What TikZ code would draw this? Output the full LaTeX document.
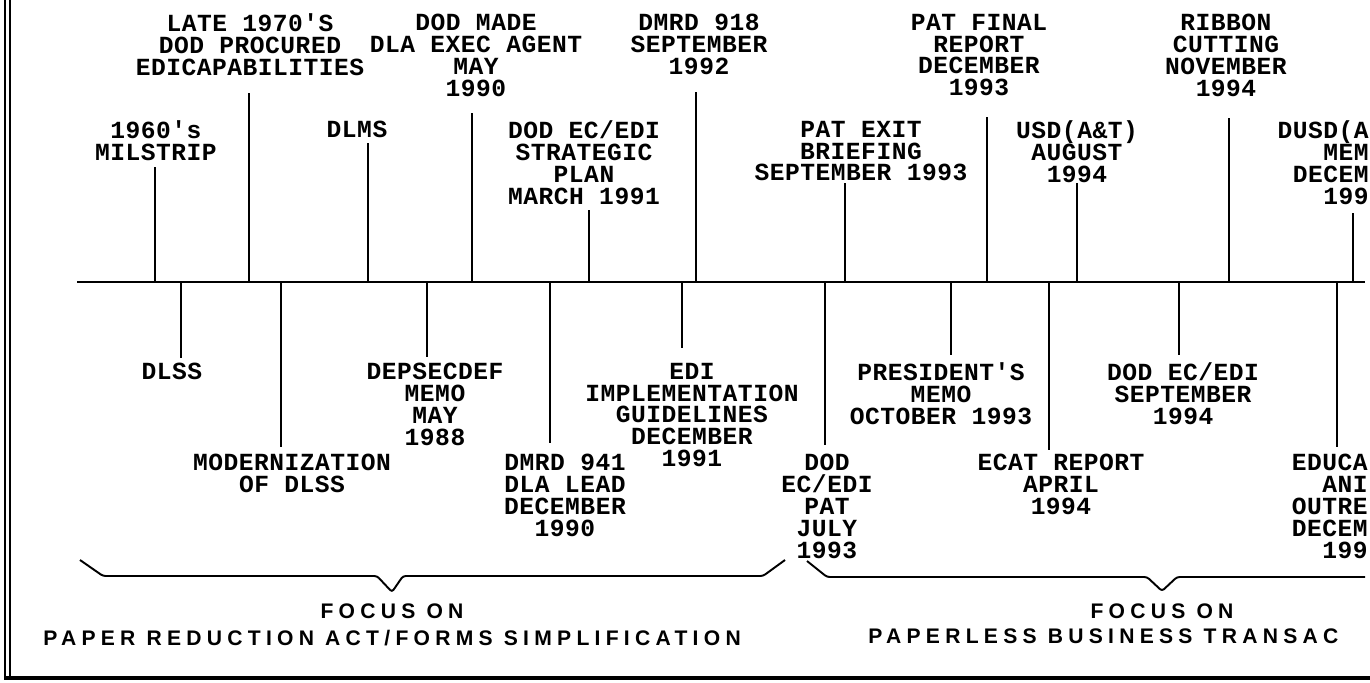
\documentclass[tikz,border=0pt]{standalone}
\usepackage{fontspec}
\usepackage{tikz}
\usetikzlibrary{positioning,calc}
\newfontfamily\evfont[LetterSpace=2]{Liberation Mono}
\newfontfamily\focusfont[LetterSpace=25]{Liberation Sans}
\tikzset{
  axisline/.style={draw=black, line width=1.7pt},
  tickline/.style={draw=black, line width=1.1pt},
  evlabel/.style={align=center, inner sep=0pt, font=\evfont\bfseries\fontsize{14}{12.5}\selectfont},
  focus/.style={inner sep=0pt, font=\focusfont\bfseries\fontsize{12}{14.2}\selectfont},
  focusbrace/.style={draw=black, line width=1.1pt, rounded corners=1.5pt},
  frameline/.style={draw=black, line width=1.1pt}
}
\newcommand{\evtick}[3]{\coordinate (#1-a) at (#2,8); \coordinate (#1-e) at (#2,#3); \draw[tickline] (#1-a) -- (#1-e);}

\begin{document}
\begin{tikzpicture}
\useasboundingbox (0,0) rectangle (27.4,13.64);

\coordinate (fr-t1) at (0.10,13.64); \coordinate (fr-b1) at (0.10,0.04);
\coordinate (fr-t2) at (0.20,13.64); \coordinate (fr-b2) at (0.20,0.08);
\coordinate (fr-r) at (27.5,0.08);
\draw[frameline] (fr-t1) -- (fr-b1);
\draw[frameline] (fr-t2) -- (fr-b2);
\draw[frameline, line width=2.3pt] (fr-b1 |- fr-r) -- (fr-r);

\coordinate (ax-l) at (1.54,8); \coordinate (ax-r) at (27.30,8);
\draw[axisline] (ax-l) -- (ax-r);

\evtick{milstrip}{3.10}{10.30} \node[evlabel, anchor=north] (milstrip) at (3.12,11.23) {1960's\\MILSTRIP};
\evtick{late70}{4.98}{11.78} \node[evlabel, anchor=north] (late70) at (5.00,13.37) {LATE 1970'S\\DOD PROCURED\\EDICAPABILITIES};
\evtick{dlms}{7.36}{10.78} \node[evlabel, anchor=north] (dlms) at (7.14,11.23) {DLMS};
\evtick{dlaagent}{9.44}{11.38} \node[evlabel, anchor=north] (dlaagent) at (9.52,13.37) {DOD MADE\\DLA EXEC AGENT\\MAY\\1990};
\evtick{stratplan}{11.78}{9.44} \node[evlabel, anchor=north] (stratplan) at (11.68,11.23) {DOD EC/EDI\\STRATEGIC\\PLAN\\MARCH 1991};
\evtick{dmrd918}{13.92}{11.80} \node[evlabel, anchor=north] (dmrd918) at (13.98,13.37) {DMRD 918\\SEPTEMBER\\1992};
\evtick{patexit}{16.90}{9.98} \node[evlabel, anchor=north] (patexit) at (17.22,11.23) {PAT EXIT\\BRIEFING\\SEPTEMBER 1993};
\evtick{patfinal}{19.74}{11.30} \node[evlabel, anchor=north] (patfinal) at (19.58,13.37) {PAT FINAL\\REPORT\\DECEMBER\\1993};
\evtick{usdat}{21.54}{9.98} \node[evlabel, anchor=north] (usdat) at (21.54,11.23) {USD(A\&T)\\AUGUST\\1994};
\evtick{ribbon}{24.58}{11.28} \node[evlabel, anchor=north] (ribbon) at (24.52,13.37) {RIBBON\\CUTTING\\NOVEMBER\\1994};
\evtick{dusd}{27.06}{9.38} \node[evlabel, align=right, anchor=north east] (dusd) at (27.38,11.23) {DUSD(A\\MEM\\DECEM\\199};

\evtick{dlss}{3.62}{6.48} \node[evlabel, anchor=north] (dlss) at (3.44,6.39) {DLSS};
\evtick{moddlss}{5.62}{4.70} \node[evlabel, anchor=north] (moddlss) at (5.84,4.57) {MODERNIZATION\\OF DLSS};
\evtick{depsecdef}{8.54}{6.50} \node[evlabel, anchor=north] (depsecdef) at (8.70,6.39) {DEPSECDEF\\MEMO\\MAY\\1988};
\evtick{dmrd941}{11.00}{4.78} \node[evlabel, anchor=north] (dmrd941) at (11.30,4.57) {DMRD 941\\DLA LEAD\\DECEMBER\\1990};
\evtick{ediimpl}{13.64}{6.68} \node[evlabel, anchor=north] (ediimpl) at (13.84,6.39) {EDI\\IMPLEMENTATION\\GUIDELINES\\DECEMBER\\1991};
\evtick{patjuly}{16.50}{4.74} \node[evlabel, anchor=north] (patjuly) at (16.54,4.57) {DOD\\EC/EDI\\PAT\\JULY\\1993};
\evtick{presmemo}{19.02}{6.54} \node[evlabel, anchor=north] (presmemo) at (18.82,6.39) {PRESIDENT'S\\MEMO\\OCTOBER 1993};
\evtick{ecat}{20.98}{4.64} \node[evlabel, anchor=north] (ecat) at (21.22,4.57) {ECAT REPORT\\APRIL\\1994};
\evtick{dodsep}{23.58}{6.54} \node[evlabel, anchor=north] (dodsep) at (23.66,6.39) {DOD EC/EDI\\SEPTEMBER\\1994};
\evtick{educ}{26.74}{4.70} \node[evlabel, align=right, anchor=north east] (educ) at (27.36,4.57) {EDUCA\\ANI\\OUTRE\\DECEM\\199};

\coordinate (tipL) at (7.84,1.80);
\draw[focusbrace] (1.60,2.44) -- (2.06,2.12) -- (7.54,2.12) -- (tipL) -- (8.06,2.12) -- (15.26,2.12) -- (15.70,2.44);
\coordinate (tipR) at (23.24,1.82);
\draw[focusbrace] (16.14,2.42) -- (16.54,2.10) -- (22.94,2.10) -- (tipR) -- (23.54,2.10) -- (27.30,2.10);

\node[focus, below=0.22cm of tipL] (focusL) {FOCUS ON};
\node[focus, below=0.22cm of focusL] (paperL) {PAPER REDUCTION ACT/FORMS SIMPLIFICATION};
\node[focus, below=0.24cm of tipR] (focusR) {FOCUS ON};
\node[focus, anchor=north west] (paperR) at (17.36,1.08) {PAPERLESS BUSINESS TRANSAC};

\end{tikzpicture}
\end{document}
